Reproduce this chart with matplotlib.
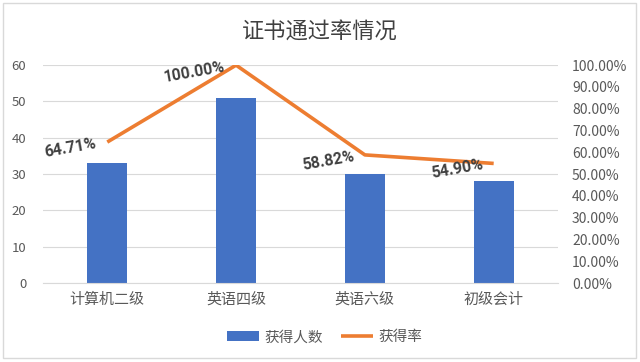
import matplotlib
matplotlib.use("Agg")
import matplotlib.pyplot as plt
from matplotlib.patches import Rectangle
from matplotlib.ticker import FuncFormatter, MultipleLocator

plt.rcParams['font.family'] = ['Noto Sans CJK SC', 'DejaVu Sans']

categories = ['计算机二级', '英语四级', '英语六级', '初级会计']
counts = [33, 51, 30, 28]
rates = [64.71, 100.00, 58.82, 54.90]
title = '证书通过率情况'
bar_label = '获得人数'
line_label = '获得率'

fig = plt.figure(figsize=(6.4, 3.62), dpi=100)
ax = fig.add_axes([0.067, 0.218, 0.805, 0.602])
ax2 = ax.twinx()

x = list(range(len(categories)))
bars = ax.bar(x, counts, width=0.31, color='#4472C4', label=bar_label, zorder=2)
ax.set_ylim(0, 60)
ax.set_xlim(-0.5, len(categories) - 0.5)
ax.yaxis.set_major_locator(MultipleLocator(10))
ax.grid(axis='y', color='#D9D9D9', linewidth=0.8, zorder=0)
ax.set_axisbelow(True)
ax.set_xticks(x)
ax.set_xticklabels(categories, fontsize=10.8, color='#595959')
for s in ['top', 'left', 'right']:
    ax.spines[s].set_visible(False)
ax.spines['bottom'].set_color('#D9D9D9')
ax.tick_params(axis='x', length=0, pad=7)
ax.tick_params(axis='y', length=0, pad=12, labelsize=9.5, labelcolor='#595959')

line, = ax2.plot(x, rates, color='#ED7D31', linewidth=2.6, label=line_label, zorder=3,
                 solid_capstyle='butt')
ax2.set_ylim(0, 100)
ax2.yaxis.set_major_locator(MultipleLocator(10))
ax2.yaxis.set_major_formatter(FuncFormatter(lambda v, p: f'{v:.2f}%'))
for s in ['top', 'left', 'right', 'bottom']:
    ax2.spines[s].set_visible(False)
ax2.tick_params(axis='y', length=0, pad=10, labelsize=10, labelcolor='#595959')

for xi, r in zip(x, rates):
    ax2.annotate(f'{r:.2f}%', (xi, r), xytext=(-8, -1), textcoords='offset points',
                 ha='right', va='center', rotation=10, rotation_mode='anchor',
                 fontsize=11.3, fontweight='bold', color='#404040', zorder=4,
                 family=['Roboto', 'DejaVu Sans'])

fig.text(0.5, 0.912, title, ha='center', va='center', fontsize=16, color='#404040')

fig.legend(handles=[bars, line], labels=[bar_label, line_label], loc='center',
           bbox_to_anchor=(0.507, 0.068), ncol=2, frameon=False, fontsize=10.5,
           labelcolor='#595959', handlelength=2.2, handleheight=0.7, columnspacing=1.2,
           handletextpad=0.4)

fig.patches.append(Rectangle((0.005, 0.01), 0.988, 0.982, transform=fig.transFigure,
                             fill=False, edgecolor='#D9D9D9', linewidth=1))

fig.savefig('out.png', dpi=100)
